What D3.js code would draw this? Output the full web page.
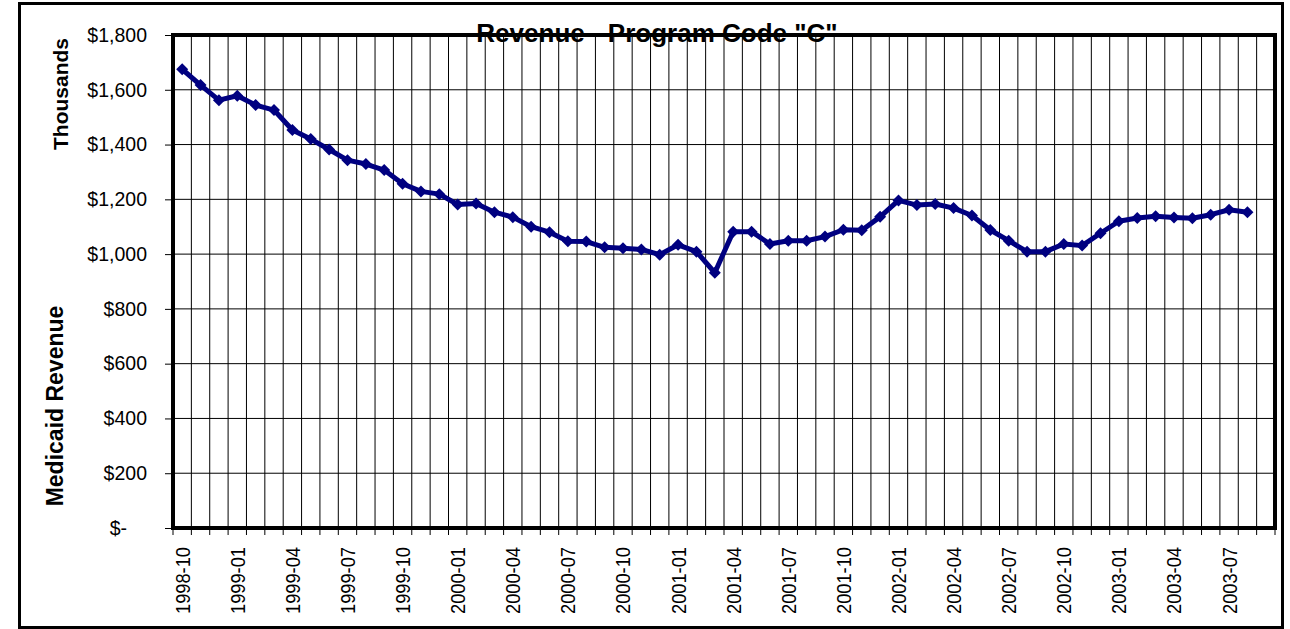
<!DOCTYPE html>
<html>
<head>
<meta charset="utf-8">
<script src="https://cdn.jsdelivr.net/npm/d3@7"></script>
<style>
  body { margin: 0; background: #fff; }
  text { font-family: "Liberation Sans", Arial, sans-serif; }
</style>
</head>
<body>
<div id="chart"></div>
<script>
// Data: monthly Medicaid revenue (thousands of $), 1998-10 .. 2003-08
const firstMonth = new Date(1998, 9, 1);
const lastMonth = new Date(2003, 8, 1); // axis runs one empty month past the data (2003-09)
const revenue = [
  1675, 1617, 1562, 1578, 1544, 1526, 1453, 1420, 1382, 1343, 1329, 1307,
  1257, 1229, 1219, 1181, 1185, 1153, 1135, 1100, 1080, 1047, 1046, 1025,
  1021, 1017, 998, 1034, 1009, 932, 1082, 1082, 1037, 1049, 1049, 1064,
  1089, 1087, 1136, 1196, 1179, 1183, 1168, 1141, 1088, 1049, 1009, 1009,
  1037, 1031, 1076, 1120, 1132, 1138, 1134, 1131, 1144, 1162, 1153
];
const yTicks = [0, 200, 400, 600, 800, 1000, 1200, 1400, 1600, 1800];
const labelEvery = 3;

const fmtMonth = d3.timeFormat("%Y-%m");
const months = d3.timeMonth.range(firstMonth, d3.timeMonth.offset(lastMonth, 1)).map(fmtMonth);

const W = 1290, H = 629;
const plot = { left: 173, right: 1275, top: 35, bottom: 528 };

const svg = d3.select("#chart")
  .append("svg")
  .attr("width", W)
  .attr("height", H);

svg.append("rect").attr("width", W).attr("height", H).attr("fill", "#fff");

// Scales
const xScale = d3.scaleBand()
  .domain(months)
  .range([plot.left, plot.right])
  .padding(0);

const yScale = d3.scaleLinear()
  .domain([0, 1800])
  .range([plot.bottom, plot.top]);

// Horizontal grid
svg.append("g")
  .selectAll("line")
  .data(yTicks)
  .join("line")
  .attr("x1", plot.left).attr("x2", plot.right)
  .attr("y1", d => yScale(d)).attr("y2", d => yScale(d))
  .attr("stroke", "#000").attr("stroke-width", 1);

// Vertical grid at each month boundary
svg.append("g")
  .selectAll("line")
  .data(months.slice(1))
  .join("line")
  .attr("x1", d => xScale(d)).attr("x2", d => xScale(d))
  .attr("y1", plot.top).attr("y2", plot.bottom)
  .attr("stroke", "#000").attr("stroke-width", 1);

// Y axis
const yAxis = d3.axisLeft(yScale)
  .tickValues(yTicks)
  .tickSize(7)
  .tickPadding(18)
  .tickFormat(d => d === 0 ? "$-" : "$" + d3.format(",")(d));

const yG = svg.append("g")
  .attr("transform", `translate(${plot.left - 1},0)`)
  .call(yAxis);
yG.select(".domain").remove();
yG.selectAll("line").attr("stroke", "#000");
yG.selectAll("text")
  .attr("font-size", 19.5)
  .attr("fill", "#000")
  .attr("dx", d => d === 0 ? -20 : 0);

// X axis: ticks on month boundaries, labels every third month
const xG = svg.append("g")
  .attr("transform", `translate(0,${plot.bottom})`);

xG.selectAll("line")
  .data(months.concat(["end"]))
  .join("line")
  .attr("x1", (d, i) => plot.left + i * xScale.bandwidth())
  .attr("x2", (d, i) => plot.left + i * xScale.bandwidth())
  .attr("y1", 0).attr("y2", 7)
  .attr("stroke", "#000");

xG.selectAll("text")
  .data(months.filter((d, i) => i % labelEvery === 0))
  .join("text")
  .attr("transform", d => `translate(${xScale(d) + xScale.bandwidth() / 2 + 7.5},19) rotate(-90) scale(0.87,1)`)
  .attr("text-anchor", "end")
  .attr("font-size", 21)
  .attr("fill", "#000")
  .text(d => d);

// Title (sits over the top border as in the original)
svg.append("text")
  .attr("x", 657)
  .attr("y", 42)
  .attr("text-anchor", "middle")
  .attr("font-size", 26)
  .attr("font-weight", "bold")
  .text('Revenue - Program Code "C"');

// Plot area frame
svg.append("rect")
  .attr("x", plot.left).attr("y", plot.top)
  .attr("width", plot.right - plot.left)
  .attr("height", plot.bottom - plot.top)
  .attr("fill", "none")
  .attr("stroke", "#000")
  .attr("stroke-width", 4);

// Outer chart frame
svg.append("rect")
  .attr("x", 19.5).attr("y", 3.5)
  .attr("width", 1263).attr("height", 624)
  .attr("fill", "none")
  .attr("stroke", "#000")
  .attr("stroke-width", 3);

// Axis titles
svg.append("text")
  .attr("transform", "translate(63,406) rotate(-90)")
  .attr("text-anchor", "middle")
  .attr("font-size", 23)
  .attr("font-weight", "bold")
  .text("Medicaid Revenue");

svg.append("text")
  .attr("transform", "translate(68,94) rotate(-90)")
  .attr("text-anchor", "middle")
  .attr("font-size", 21)
  .attr("font-weight", "bold")
  .text("Thousands");

// Series line and diamond markers
const points = revenue.map((v, i) => ({ month: months[i], value: v }));
const cx = d => xScale(d.month) + xScale.bandwidth() / 2;

svg.append("path")
  .datum(points)
  .attr("d", d3.line().x(cx).y(d => yScale(d.value)))
  .attr("fill", "none")
  .attr("stroke", "#000080")
  .attr("stroke-width", 5)
  .attr("stroke-linejoin", "round");

svg.append("g")
  .selectAll("path")
  .data(points)
  .join("path")
  .attr("d", d3.symbol().type(d3.symbolSquare).size(72))
  .attr("transform", d => `translate(${cx(d)},${yScale(d.value)}) rotate(45)`)
  .attr("fill", "#000080");
</script>
</body>
</html>
